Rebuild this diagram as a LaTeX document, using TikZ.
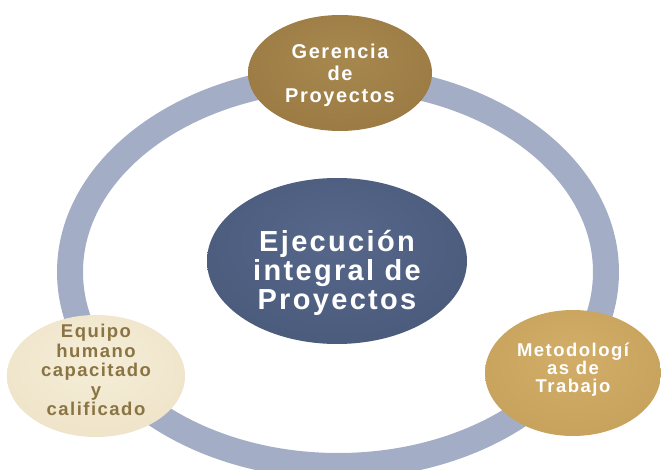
\documentclass[tikz,border=0pt]{standalone}
\usepackage{fontspec}
\setmainfont{Liberation Sans}
\newfontfamily\lsfont[LetterSpace=8]{Liberation Sans}
\usetikzlibrary{shapes.geometric}
\definecolor{ringc}{HTML}{A3AEC6}
\definecolor{gIn}{HTML}{A7884F}
\definecolor{gMid}{HTML}{9A7A42}
\definecolor{gOut}{HTML}{7A5D2E}
\definecolor{bIn}{HTML}{56678A}
\definecolor{bMid}{HTML}{4A5A7B}
\definecolor{bOut}{HTML}{36445F}
\definecolor{cIn}{HTML}{F6EEDA}
\definecolor{cMid}{HTML}{EEE3C7}
\definecolor{cOut}{HTML}{D9C9A0}
\definecolor{tIn}{HTML}{D2AE69}
\definecolor{tMid}{HTML}{C6A15C}
\definecolor{tOut}{HTML}{A6823F}
\definecolor{ltext}{HTML}{8A7443}
\pgfdeclareradialshading{shgold}{\pgfpoint{0bp}{8bp}}{color(0bp)=(gIn); color(32bp)=(gMid); color(50bp)=(gOut)}
\pgfdeclareradialshading{shblue}{\pgfpoint{0bp}{8bp}}{color(0bp)=(bIn); color(32bp)=(bMid); color(50bp)=(bOut)}
\pgfdeclareradialshading{shcream}{\pgfpoint{0bp}{8bp}}{color(0bp)=(cIn); color(32bp)=(cMid); color(50bp)=(cOut)}
\pgfdeclareradialshading{shtan}{\pgfpoint{0bp}{8bp}}{color(0bp)=(tIn); color(32bp)=(tMid); color(50bp)=(tOut)}
\tikzset{
  bub/.style={ellipse, inner sep=0pt},
  lbl/.style={inner sep=0pt, align=center},
  ringstyle/.style={draw=ringc, line width=26pt},
}
\begin{document}
\begin{tikzpicture}[x=1pt,y=-1pt]
\useasboundingbox (0,0) rectangle (661,470);
\draw[ringstyle] (338,272) ellipse [x radius=268, y radius=194];
% bubbles
\node[bub, shading=shgold, minimum width=184pt, minimum height=116pt] (ger) at (340,73) {};
\node[bub, shading=shblue, minimum width=260pt, minimum height=166pt] (eje) at (337,261) {};
\node[bub, shading=shcream, minimum width=178pt, minimum height=122pt] (equ) at (96,376) {};
\node[bub, shading=shtan, minimum width=176pt, minimum height=126pt] (met) at (573,373) {};
% texts
\node[lbl, text=white, font=\lsfont\bfseries\fontsize{20}{22}\selectfont] (gert) at (340,75)
  {Gerencia\\de\\Proyectos};
\node[lbl, text=white, font=\lsfont\bfseries\fontsize{29}{29}\selectfont] (ejet) at (337,273)
  {Ejecución\\integral de\\Proyectos};
\node[lbl, text=ltext, font=\lsfont\bfseries\fontsize{18.5}{19.5}\selectfont] (equt) at (96,370)
  {Equipo\\humano\\capacitado\\y\\calificado};
\node[lbl, text=white, font=\lsfont\bfseries\fontsize{18.5}{18}\selectfont] (mett) at (573,370)
  {Metodologí\\as de\\Trabajo};
\end{tikzpicture}
\end{document}
